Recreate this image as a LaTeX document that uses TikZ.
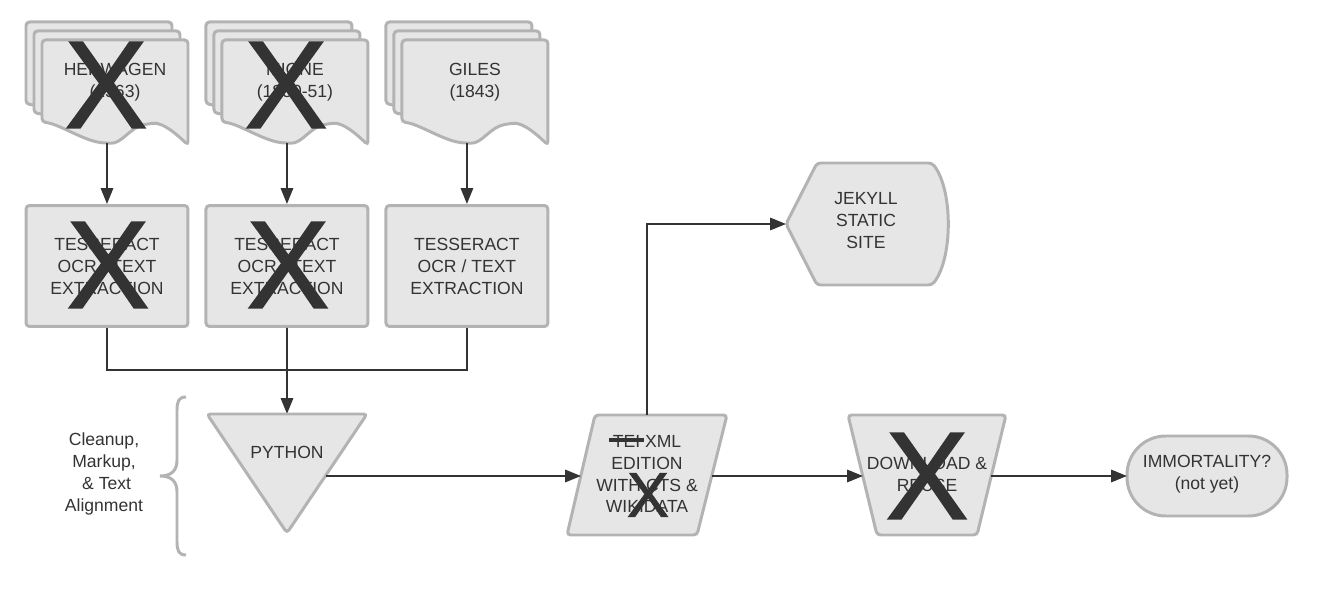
\documentclass[tikz,border=0pt]{standalone}
\usepackage{fontspec}
\setmainfont{Liberation Sans}
\newfontfamily\xfont[FakeBold=1.2]{Liberation Sans}
\usetikzlibrary{arrows.meta}

\definecolor{shapefill}{HTML}{E6E6E6}
\definecolor{shapeline}{HTML}{B3B3B3}
\definecolor{ink}{HTML}{333333}

\newsavebox\strikebox
\newcommand{\struck}[1]{\sbox\strikebox{#1}\rlap{\hspace{-2pt}\rule[0.3em]{\dimexpr\wd\strikebox+4pt\relax}{2pt}}#1}

\tikzset{
  block/.style={draw=shapeline, fill=shapefill, line width=1.7pt, rounded corners=2pt},
  txt/.style={text=ink, font=\fontsize{10}{12.5}\selectfont, align=center, inner sep=0pt},
  box/.style={block, txt, minimum width=3.24cm, minimum height=2.42cm},
  bigx/.style={text=ink, font=\xfont\fontsize{71}{71}\selectfont, inner sep=0pt},
  smallx/.style={text=ink, font=\xfont\fontsize{36}{36}\selectfont, inner sep=0pt},
  link/.style={draw=ink, line width=1.1pt},
}

\begin{document}
\begin{tikzpicture}[x=0.02cm, y=-0.02cm, >={Triangle[length=9pt,width=7pt]}]
\useasboundingbox (0,0) rectangle (1327,590);
\begin{scope}[xshift=0cm]
  \foreach \s in {16,8,0}
    \draw[block, shift={(-\s,-1.125*\s)}] (42,40) -- (188,40) -- (188,145)
      .. controls (170,128) and (160,122) .. (148,124)
      .. controls (130,127) and (122,144) .. (107,143)
      .. controls (85,142) and (60,124) .. (42,122) -- cycle;
  \node[txt] (herwagen) at (115,82) {HERWAGEN\\(1563)};
  \coordinate (doc1) at (107,143);
  \node[box] (ocr1) at (107,266) {TESSERACT\\OCR / TEXT\\EXTRACTION};
  \draw[link,->] (doc1) -- (ocr1);
  \node[bigx] (x1) at (106,85) {X};
  \node[bigx] (x2) at (108,265) {X};
\end{scope}
\begin{scope}[xshift=3.6cm]
  \foreach \s in {16,8,0}
    \draw[block, shift={(-\s,-1.125*\s)}] (42,40) -- (188,40) -- (188,145)
      .. controls (170,128) and (160,122) .. (148,124)
      .. controls (130,127) and (122,144) .. (107,143)
      .. controls (85,142) and (60,124) .. (42,122) -- cycle;
  \node[txt] (migne) at (115,82) {MIGNE\\(1850-51)};
  \coordinate (doc2) at (107,143);
  \node[box] (ocr2) at (107,266) {TESSERACT\\OCR / TEXT\\EXTRACTION};
  \draw[link,->] (doc2) -- (ocr2);
  \node[bigx] (x3) at (106,85) {X};
  \node[bigx] (x4) at (108,265) {X};
\end{scope}
\begin{scope}[xshift=7.2cm]
  \foreach \s in {16,8,0}
    \draw[block, shift={(-\s,-1.125*\s)}] (42,40) -- (188,40) -- (188,145)
      .. controls (170,128) and (160,122) .. (148,124)
      .. controls (130,127) and (122,144) .. (107,143)
      .. controls (85,142) and (60,124) .. (42,122) -- cycle;
  \node[txt] (giles) at (115,82) {GILES\\(1843)};
  \coordinate (doc3) at (107,143);
  \node[box] (ocr3) at (107,266) {TESSERACT\\OCR / TEXT\\EXTRACTION};
  \draw[link,->] (doc3) -- (ocr3);
\end{scope}

% merge into python
\coordinate (merge) at (287,370);
\coordinate (pytop) at (287,414);
\draw[link] (ocr1.south) |- (merge) -| (ocr3.south);
\draw[link,->] (ocr2.south) -- (pytop);

\draw[block] (207,414) -- (367,414) -- (287,533) -- cycle;
\node[txt] (python) at (287,452) {PYTHON};
\coordinate (pyout) at (326,476);

% brace and its label
\draw[draw=shapeline, line width=1.7pt] (186,397) .. controls (179,397) and (177,401) .. (177,410)
  -- (177,460) .. controls (177,470) and (172,476) .. (160,476)
  .. controls (172,476) and (177,482) .. (177,492) -- (177,542)
  .. controls (177,551) and (179,555) .. (186,555);
\node[txt] (cleanup) at (104,474) {Cleanup,\\Markup,\\\hspace{0.3em}\& Text\\Alignment};

% tei edition
\draw[block] (567,535) -- (595,415) -- (727,415) -- (697,535) -- cycle;
\node[txt] (tei) at (647,474) {\struck{TEI} XML\\EDITION\\WITH CTS \&\\WIKIDATA};
\node[smallx] (x5) at (648,495) {X};
\coordinate (teiin) at (581,476);
\coordinate (teitop) at (647,415);
\coordinate (teiout) at (712,476);

% jekyll
\draw[block] (786,224) -- (817,163) -- (932,163) .. controls (953,190) and (953,258) .. (932,285)
  -- (817,285) -- cycle;
\node[txt] (jekyll) at (866,221) {JEKYLL\\STATIC\\SITE};
\coordinate (jekyllin) at (786,224);

% download
\draw[block] (848,415) -- (1006,415) -- (977,535) -- (877,535) -- cycle;
\node[txt] (reuse) at (927,474) {DOWNLOAD \&\\REUSE};
\node[bigx] (x6) at (927,476) {X};
\coordinate (reusein) at (863,476);
\coordinate (reuseout) at (991,476);

% end
\draw[block, rounded corners=22pt] (1127,436) rectangle (1287,516);
\node[txt] (immortal) at (1207,474) {IMMORTALITY?\\(not yet)};
\coordinate (immin) at (1127,476);

\draw[link,->] (pyout) -- (teiin);
\draw[link,->] (teitop) |- (jekyllin);
\draw[link,->] (teiout) -- (reusein);
\draw[link,->] (reuseout) -- (immin);
\end{tikzpicture}
\end{document}
